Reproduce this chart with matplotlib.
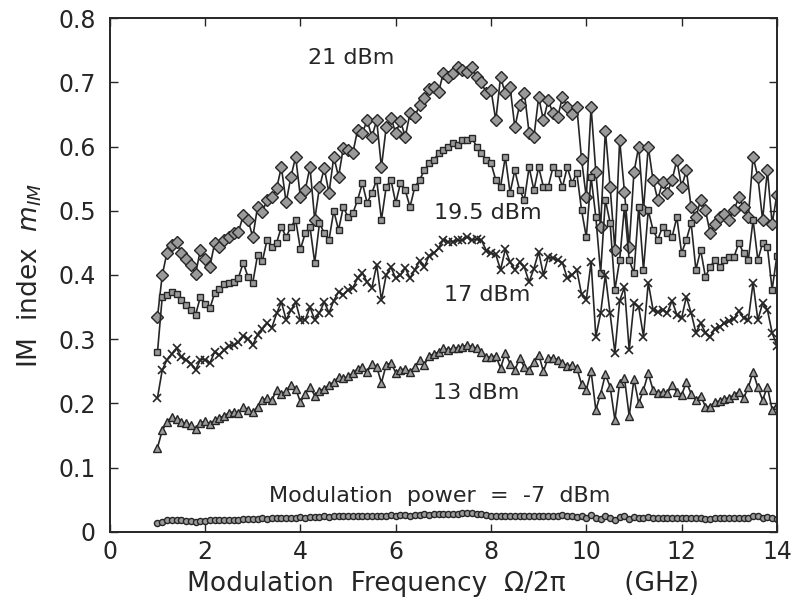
import numpy as np
import matplotlib
matplotlib.use("Agg")
import matplotlib.pyplot as plt

plt.rcParams["font.family"] = ["DejaVu Sans"]
plt.rcParams["mathtext.fontset"] = "dejavusans"

# modulation frequency grid (GHz), 0.1 GHz steps from 1 to 14
freq = np.linspace(1.0, 14.0, 131)

# IM index, one row per GHz
im_21 = [
    0.335, 0.400, 0.435, 0.447, 0.451, 0.434, 0.425, 0.416, 0.402, 0.439,
    0.425, 0.413, 0.450, 0.444, 0.455, 0.459, 0.465, 0.467, 0.493, 0.486,
    0.459, 0.506, 0.498, 0.517, 0.521, 0.535, 0.568, 0.513, 0.553, 0.584,
    0.521, 0.532, 0.568, 0.486, 0.537, 0.566, 0.528, 0.584, 0.553, 0.598,
    0.594, 0.590, 0.626, 0.621, 0.641, 0.615, 0.641, 0.568, 0.630, 0.645,
    0.621, 0.640, 0.615, 0.652, 0.646, 0.665, 0.675, 0.690, 0.693, 0.685,
    0.715, 0.708, 0.714, 0.724, 0.719, 0.716, 0.724, 0.708, 0.700, 0.683,
    0.688, 0.641, 0.708, 0.683, 0.693, 0.630, 0.665, 0.683, 0.621, 0.615,
    0.677, 0.641, 0.672, 0.652, 0.646, 0.677, 0.662, 0.650, 0.662, 0.580,
    0.521, 0.662, 0.560, 0.475, 0.625, 0.537, 0.439, 0.610, 0.530, 0.444,
    0.560, 0.600, 0.501, 0.600, 0.548, 0.517, 0.545, 0.528, 0.548, 0.579,
    0.537, 0.563, 0.506, 0.490, 0.517, 0.501, 0.465, 0.480, 0.490, 0.495,
    0.486, 0.501, 0.521, 0.506, 0.490, 0.584, 0.553, 0.486, 0.563, 0.480,
    0.525,
]
im_195 = [
    0.280, 0.366, 0.369, 0.374, 0.370, 0.361, 0.354, 0.346, 0.338, 0.366,
    0.355, 0.348, 0.372, 0.378, 0.386, 0.388, 0.389, 0.396, 0.419, 0.397,
    0.388, 0.431, 0.421, 0.455, 0.444, 0.450, 0.475, 0.459, 0.475, 0.486,
    0.440, 0.465, 0.475, 0.419, 0.481, 0.465, 0.455, 0.500, 0.470, 0.506,
    0.490, 0.496, 0.517, 0.543, 0.512, 0.528, 0.548, 0.486, 0.537, 0.548,
    0.512, 0.543, 0.532, 0.506, 0.537, 0.548, 0.563, 0.574, 0.579, 0.590,
    0.595, 0.600, 0.605, 0.602, 0.610, 0.610, 0.613, 0.600, 0.590, 0.579,
    0.574, 0.548, 0.537, 0.584, 0.528, 0.563, 0.532, 0.517, 0.568, 0.532,
    0.568, 0.537, 0.537, 0.568, 0.559, 0.537, 0.568, 0.543, 0.559, 0.501,
    0.459, 0.553, 0.490, 0.403, 0.517, 0.481, 0.377, 0.423, 0.506, 0.423,
    0.403, 0.506, 0.408, 0.501, 0.470, 0.455, 0.475, 0.465, 0.459, 0.490,
    0.434, 0.455, 0.481, 0.408, 0.439, 0.397, 0.413, 0.423, 0.413, 0.423,
    0.428, 0.428, 0.450, 0.434, 0.423, 0.486, 0.423, 0.450, 0.444, 0.377,
    0.430,
]
im_17 = [
    0.209, 0.252, 0.268, 0.277, 0.286, 0.272, 0.268, 0.262, 0.252, 0.268,
    0.268, 0.263, 0.280, 0.275, 0.283, 0.289, 0.291, 0.295, 0.305, 0.300,
    0.291, 0.307, 0.316, 0.325, 0.318, 0.340, 0.358, 0.330, 0.345, 0.358,
    0.330, 0.330, 0.350, 0.330, 0.341, 0.358, 0.341, 0.360, 0.374, 0.369,
    0.377, 0.380, 0.395, 0.403, 0.389, 0.380, 0.416, 0.361, 0.400, 0.412,
    0.395, 0.400, 0.411, 0.395, 0.408, 0.422, 0.412, 0.430, 0.434, 0.442,
    0.455, 0.451, 0.452, 0.454, 0.454, 0.459, 0.454, 0.456, 0.454, 0.438,
    0.434, 0.432, 0.408, 0.440, 0.420, 0.408, 0.420, 0.412, 0.389, 0.410,
    0.436, 0.400, 0.428, 0.426, 0.423, 0.419, 0.395, 0.400, 0.408, 0.370,
    0.361, 0.420, 0.304, 0.340, 0.400, 0.340, 0.279, 0.360, 0.381, 0.283,
    0.356, 0.350, 0.304, 0.388, 0.346, 0.342, 0.346, 0.341, 0.360, 0.338,
    0.333, 0.366, 0.341, 0.310, 0.325, 0.310, 0.304, 0.316, 0.319, 0.325,
    0.328, 0.332, 0.344, 0.333, 0.330, 0.388, 0.330, 0.356, 0.346, 0.310,
    0.290,
]
im_13 = [
    0.131, 0.158, 0.171, 0.179, 0.175, 0.171, 0.169, 0.166, 0.160, 0.170,
    0.172, 0.168, 0.174, 0.177, 0.181, 0.185, 0.187, 0.185, 0.195, 0.190,
    0.186, 0.195, 0.205, 0.208, 0.205, 0.221, 0.215, 0.219, 0.229, 0.223,
    0.202, 0.215, 0.226, 0.212, 0.220, 0.223, 0.229, 0.233, 0.241, 0.239,
    0.242, 0.247, 0.254, 0.256, 0.249, 0.262, 0.257, 0.232, 0.260, 0.263,
    0.248, 0.252, 0.254, 0.249, 0.257, 0.267, 0.260, 0.274, 0.277, 0.280,
    0.287, 0.283, 0.286, 0.287, 0.288, 0.291, 0.288, 0.286, 0.280, 0.272,
    0.272, 0.274, 0.255, 0.278, 0.262, 0.252, 0.270, 0.257, 0.252, 0.265,
    0.276, 0.250, 0.271, 0.271, 0.268, 0.263, 0.258, 0.260, 0.255, 0.230,
    0.221, 0.250, 0.190, 0.215, 0.245, 0.226, 0.174, 0.232, 0.240, 0.180,
    0.238, 0.200, 0.221, 0.247, 0.221, 0.216, 0.218, 0.216, 0.228, 0.218,
    0.213, 0.233, 0.215, 0.205, 0.212, 0.195, 0.195, 0.202, 0.204, 0.207,
    0.209, 0.213, 0.218, 0.208, 0.225, 0.249, 0.225, 0.205, 0.226, 0.190,
    0.198,
]
im_m7 = [
    0.013, 0.016, 0.018, 0.018, 0.018, 0.018, 0.017, 0.017, 0.016, 0.017,
    0.017, 0.018, 0.018, 0.018, 0.019, 0.019, 0.019, 0.019, 0.020, 0.020,
    0.020, 0.020, 0.021, 0.020, 0.021, 0.021, 0.022, 0.021, 0.022, 0.022,
    0.023, 0.022, 0.023, 0.023, 0.023, 0.024, 0.023, 0.024, 0.024, 0.024,
    0.024, 0.025, 0.024, 0.025, 0.025, 0.025, 0.024, 0.025, 0.025, 0.026,
    0.025, 0.026, 0.026, 0.025, 0.026, 0.026, 0.027, 0.026, 0.027, 0.027,
    0.027, 0.028, 0.028, 0.028, 0.029, 0.029, 0.029, 0.028, 0.028, 0.026,
    0.025, 0.025, 0.024, 0.025, 0.024, 0.025, 0.024, 0.025, 0.025, 0.024,
    0.025, 0.024, 0.025, 0.025, 0.025, 0.026, 0.025, 0.024, 0.023, 0.024,
    0.021, 0.026, 0.022, 0.020, 0.024, 0.022, 0.019, 0.023, 0.024, 0.020,
    0.023, 0.021, 0.022, 0.023, 0.022, 0.022, 0.021, 0.022, 0.022, 0.022,
    0.021, 0.022, 0.022, 0.021, 0.021, 0.020, 0.020, 0.021, 0.021, 0.021,
    0.021, 0.021, 0.022, 0.021, 0.022, 0.024, 0.025, 0.022, 0.023, 0.022,
    0.020,
]

ink = "#262626"
face = "#9a9a9a"

fig = plt.figure(figsize=(7.96, 6.05), dpi=100)
ax = fig.add_axes([0.138, 0.121, 0.838, 0.849])

style = dict(color=ink, lw=1.2, mec=ink, mfc=face, mew=1.0)
ax.plot(freq, im_21, marker="D", ms=5.8, **style)
ax.plot(freq, im_195, marker="s", ms=5.0, **style)
ax.plot(freq, im_17, marker="x", ms=5.2, color=ink, lw=1.2, mew=1.2)
ax.plot(freq, im_13, marker="^", ms=5.8, **style)
ax.plot(freq, im_m7, marker="o", ms=4.4, **style)

lab = dict(fontsize=16, color=ink, ha="center", va="center")
ax.text(5.06, 0.738, "21 dBm", **lab)
ax.text(7.94, 0.497, "19.5 dBm", **lab)
ax.text(7.92, 0.369, "17 dBm", **lab)
ax.text(7.68, 0.216, "13 dBm", **lab)
ax.text(6.93, 0.056, "Modulation  power  =  -7  dBm", **lab)

ax.set_xlim(0, 14)
ax.set_ylim(0, 0.8)
ax.set_xticks(range(0, 15, 2))
ax.set_yticks([0, 0.1, 0.2, 0.3, 0.4, 0.5, 0.6, 0.7, 0.8])
ax.set_yticklabels(["0", "0.1", "0.2", "0.3", "0.4", "0.5", "0.6", "0.7", "0.8"])
ax.tick_params(direction="in", length=6, width=1.0, colors=ink, labelsize=17,
               top=True, right=True)
ax.tick_params(axis="x", pad=6)
ax.tick_params(axis="y", pad=10)
for sp in ax.spines.values():
    sp.set_color(ink)
    sp.set_linewidth(1.4)

ax.set_xlabel("Modulation  Frequency  \u03a9/2\u03c0       (GHz)", fontsize=19,
              color=ink, labelpad=5)
ax.set_ylabel("IM  index  $m_{IM}$", fontsize=19, color=ink, labelpad=10)

fig.savefig("out.png", dpi=100)
